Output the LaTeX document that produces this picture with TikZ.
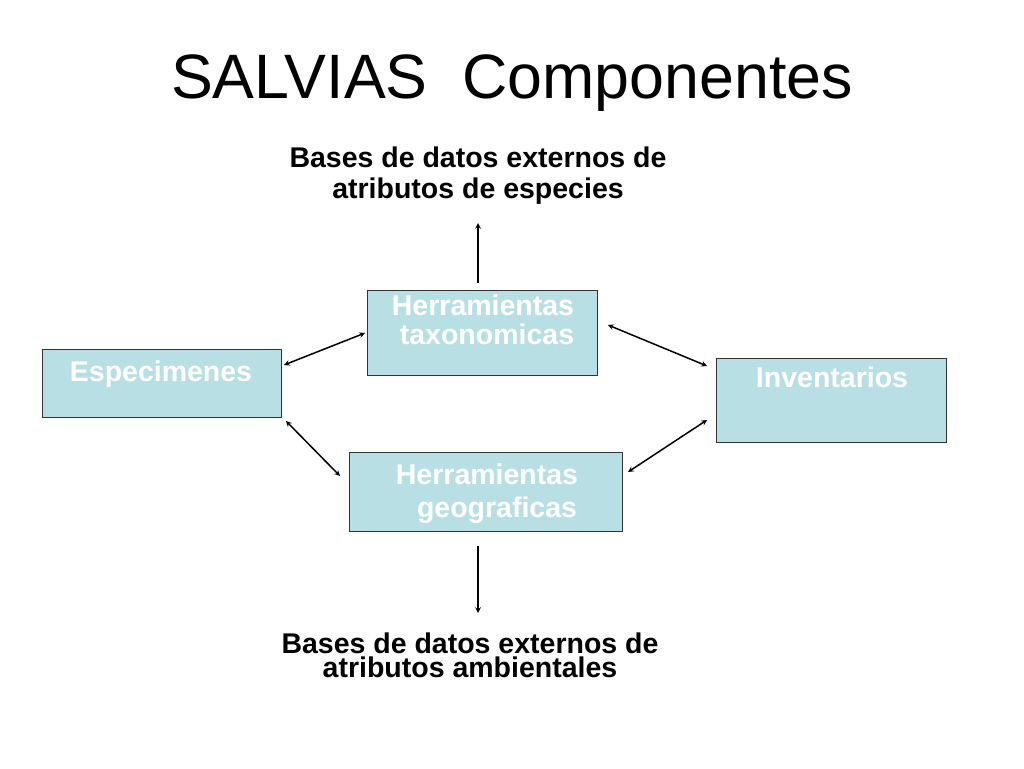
\documentclass[tikz,border=0pt]{standalone}
\usepackage{fontspec}
\setmainfont{Liberation Sans}
\usetikzlibrary{positioning, arrows, calc}
\definecolor{boxteal}{RGB}{184,224,228}

\begin{document}
\begin{tikzpicture}[
    x=1pt, y=-1pt,
    >=stealth,
    thick,
    box/.style={draw=black!80, fill=boxteal, line width=1pt, anchor=north west, inner sep=0pt},
    boxtext/.style={text=white, font=\fontsize{28.5}{29}\selectfont\bfseries, align=center},
    ext/.style={font=\fontsize{28.5}{31}\selectfont\bfseries, align=center},
    link/.style={<->, line width=1.5pt, >={stealth[scale=1.7]}}
  ]
  \useasboundingbox (0,0) rectangle (1024,768);

  % --- TITULO ---
  \node[font=\fontsize{62.7}{70}\selectfont] (title) at (512,83) {SALVIAS\ \ Componentes};

  % --- CAJAS ---
  \node[box, minimum width=230, minimum height=85] (tax) at (367,290) {};
  \node[box, minimum width=239, minimum height=68] (esp) at (42,349) {};
  \node[box, minimum width=230, minimum height=84] (inv) at (716,358) {};
  \node[box, minimum width=273, minimum height=79] (geo) at (349,452) {};

  \node[boxtext] (taxt) at (483,320) {Herramientas\\\hspace*{8pt}taxonomicas};
  \node[boxtext] (espt) at (161,374) {Especimenes};
  \node[boxtext] (invt) at (832,377) {Inventarios};
  \node[boxtext, font=\fontsize{28.5}{33}\selectfont\bfseries] (geot) at (487,494) {Herramientas\\\hspace*{20pt}geograficas};

  % --- BASES EXTERNAS ---
  \node[ext] (top) at (478,176) {Bases de datos externos de\\atributos de especies};
  \node[ext, font=\fontsize{28.5}{24}\selectfont\bfseries] (bot) at (470,655) {Bases de datos externos de\\atributos ambientales};

  % --- FLECHAS ---
  \draw[link, -] ($(tax.south west)+(111,-93)$) edge[->] ($(tax.south west)+(111,-153)$);
  \draw[link, -] ($(geo.south west)+(129,14)$) edge[->] ($(geo.south west)+(129,81)$);
  \draw[link] ($(esp.north east)+(2,16)$) -- ($(tax.north west)+(-2,43)$);
  \draw[link] ($(tax.north east)+(10,35)$) -- ($(inv.north west)+(-9,8)$);
  \draw[link] ($(esp.south east)+(4,3)$) -- ($(geo.north west)+(-9,24)$);
  \draw[link] ($(geo.north east)+(5,20)$) -- ($(inv.north west)+(-9,62)$);

\end{tikzpicture}
\end{document}
